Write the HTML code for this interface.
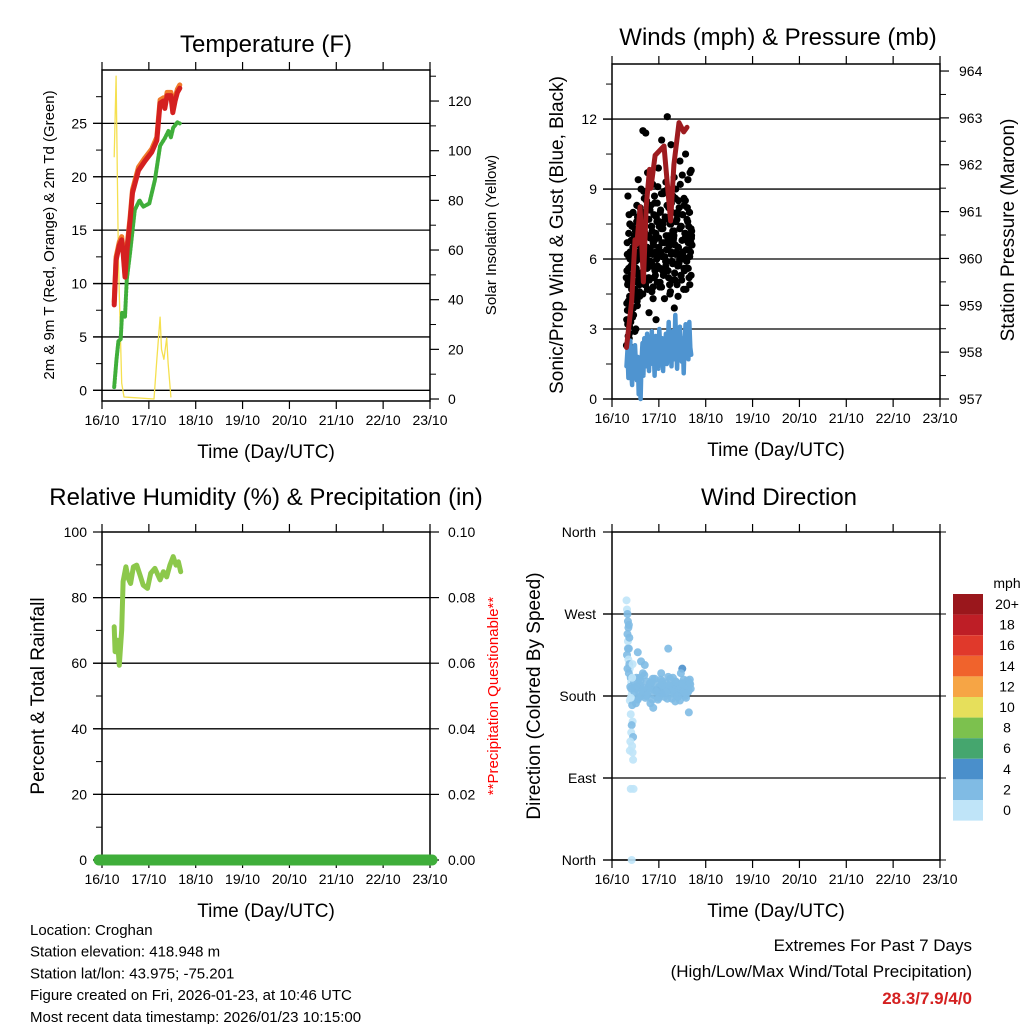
<!DOCTYPE html>
<html><head><meta charset="utf-8"><style>
body{margin:0;background:#fff;}
svg{display:block;font-family:"Liberation Sans",sans-serif;}
</style></head><body>
<svg id="s" width="1024" height="1024" xmlns="http://www.w3.org/2000/svg"></svg>
<script>
const dayLabels=["16/10","17/10","18/10","19/10","20/10","21/10","22/10","23/10"];
const tempT=[0.26,0.30,0.37,0.42,0.45,0.49,0.54,0.60,0.65,0.78,0.92,1.06,1.17,1.24,1.31,1.34,1.39,1.47,1.51,1.56,1.61,1.66];
const tempRed=[8.0,12.2,13.6,14.1,12.9,10.6,13.4,15.9,18.5,20.6,21.5,22.3,23.4,26.9,27.1,26.4,27.6,27.6,26.0,27.1,27.9,28.3];
const tdT=[0.26,0.31,0.35,0.40,0.43,0.49,0.53,0.60,0.70,0.80,0.88,1.01,1.13,1.24,1.34,1.42,1.47,1.52,1.61,1.66];
const tdVals=[0.3,2.9,4.6,4.8,7.3,6.9,10.4,12.9,16.9,17.8,17.2,17.5,19.7,22.9,23.6,24.3,23.7,24.6,25.1,25.0];
const solT=[0.26,0.30,0.35,0.42,0.47,1.11,1.17,1.24,1.27,1.32,1.38,1.41,1.47];
const solVals=[97.6,130,56,6.4,0.8,0,15.7,33,20,16,24.6,14.5,0.8];
const presT=[0.31,0.42,0.49,0.53,0.60,0.67,0.73,0.80,0.83,0.92,1.11,1.25,1.32,1.43,1.53,1.60];
const presVals=[958.1,959.1,960.4,960.3,961.1,959.5,961.1,961.9,961.5,962.2,962.4,960.8,962.0,962.9,962.7,962.8];
const gustT=[0.31,0.32,0.33,0.34,0.35,0.36,0.37,0.38,0.39,0.40,0.41,0.42,0.43,0.44,0.45,0.46,0.47,0.48,0.49,0.50,0.51,0.52,0.53,0.54,0.55,0.56,0.57,0.58,0.59,0.60,0.62,0.63,0.65,0.66,0.67,0.69,0.70,0.72,0.73,0.75,0.76,0.78,0.79,0.81,0.82,0.84,0.85,0.87,0.88,0.90,0.91,0.93,0.94,0.96,0.97,0.99,1.00,1.02,1.03,1.05,1.06,1.08,1.09,1.11,1.12,1.14,1.15,1.17,1.18,1.20,1.21,1.23,1.24,1.26,1.27,1.29,1.30,1.32,1.33,1.35,1.36,1.38,1.39,1.41,1.42,1.44,1.45,1.47,1.48,1.50,1.51,1.53,1.54,1.56,1.57,1.59,1.60,1.62,1.63,1.65,1.66,1.68,1.69,1.70];
const gustVals=[2.3,5.5,3.8,8.7,4.2,6.1,2.8,7.5,5.0,3.3,6.8,4.7,2.2,5.8,8.0,3.6,6.3,1.0,4.5,7.2,3.0,5.4,8.3,4.0,6.6,9.4,5.1,7.8,4.4,6.0,9.0,5.3,7.1,11.5,6.4,8.6,4.9,11.4,7.0,5.6,9.7,6.2,3.7,8.1,5.9,7.4,4.6,9.2,6.7,5.2,8.4,6.9,3.4,7.6,5.7,9.9,6.5,4.8,8.0,7.3,11.1,5.5,8.8,6.1,4.3,7.7,9.3,5.9,12.1,6.8,8.2,4.9,7.5,10.9,6.3,5.1,8.7,7.0,3.9,6.6,9.0,5.8,7.9,4.4,8.5,6.2,10.2,5.3,7.4,9.6,6.0,4.7,8.3,6.9,10.5,5.6,7.7,9.4,6.4,8.0,4.9,6.7,9.8,7.2];
const gustVals2=[4.1,6.2,3.2,5.0,7.1,2.6,4.4,6.0,3.9,5.3,4.8,7.4,3.5,6.5,4.3,5.9,7.0,2.9,6.1,4.6,5.6,7.6,4.2,6.9,5.0,7.3,6.3,4.9,8.2,5.4,6.5,7.9,4.5,6.8,8.9,5.2,7.1,6.0,8.5,4.7,6.4,7.7,5.1,6.9,8.3,5.8,7.2,4.3,6.6,8.7,5.5,6.3,7.8,5.0,9.1,6.2,7.4,5.6,8.1,4.8,6.7,7.5,5.3,8.9,6.1,5.7,7.0,6.4,9.0,5.2,7.8,6.6,4.6,8.4,5.9,7.2,6.8,9.5,5.4,6.2,7.6,4.9,8.0,6.5,5.8,7.3,9.2,6.0,5.1,7.9,6.3,8.6,5.5,7.1,4.7,6.9,8.2,5.6,7.4,6.1,9.7,5.3,7.0,6.6];
const gustVals3=[5.2,3.4,6.7,4.9,2.7,5.6,7.9,3.1,6.3,4.0,5.7,3.6,6.8,4.4,5.1,3.9,6.2,5.5,4.7,7.3,5.9,4.3,6.6,5.0,7.8,6.1,5.3,6.9,4.6,7.5,6.0,5.4,8.0,6.7,5.1,7.2,6.3,4.9,7.7,5.8,6.5,7.0,5.2,8.1,6.4,5.7,7.4,6.2,4.8,7.9,6.8,5.3,7.1,6.0,8.4,5.6,6.9,7.6,5.0,6.3,8.8,6.1,7.3,5.4,6.7,7.8,5.9,6.4,8.3,5.5,7.0,6.6,4.5,7.5,6.2,8.0,5.8,6.9,7.2,5.1,8.6,6.3,7.7,5.7,6.5,8.2,6.0,7.4,5.3,6.8,7.9,6.1,5.6,7.1,8.5,6.4,5.9,7.6,6.7,5.2,8.0,6.3,7.3,6.9];
const windT0=0.31, windDt=0.02;
const windVals=[1.4,2.1,0.9,1.7,2.5,1.2,0.6,1.9,1.1,2.3,1.5,0.8,1.8,0.2,1.3,0,1.6,2.4,1.0,2.6,1.9,1.4,2.8,2.0,1.2,2.5,1.7,2.9,1.5,2.2,1.0,2.7,1.8,2.3,1.3,3.0,2.1,1.6,2.6,1.2,2.4,1.9,2.8,1.5,2.2,3.3,1.8,2.5,1.4,2.9,2.0,1.7,3.6,2.3,1.3,2.7,1.9,3.1,2.2,1.6,2.6,1.1,2.4,3.2,1.9,2.5,1.7,3.3,2.2,1.9];
const rhT=[0.26,0.28,0.33,0.37,0.42,0.45,0.51,0.56,0.61,0.67,0.74,0.81,0.88,0.97,1.04,1.13,1.24,1.31,1.38,1.45,1.52,1.58,1.63,1.68];
const rhVals=[71.1,63.5,67,59.4,70.1,84.9,89.4,85.9,84.3,89.4,89.9,86.9,83.8,82.8,87.4,88.9,85.4,87.9,86.3,89.9,92.5,89.9,90.9,87.9];
const dirT=[0.31,0.32,0.33,0.34,0.35,0.33,0.34,0.36,0.32,0.35,0.37,0.38,0.36,0.40,0.41,0.39,0.42,0.38,0.43,0.40,0.44,0.42,0.41,0.45,0.39,0.43,0.44,0.38,0.45,0.40,0.46,0.42,0.36,0.37,0.34,0.33,
0.47,0.50,0.52,0.55,0.58,0.60,0.63,0.66,0.68,0.71,0.74,0.76,0.79,0.82,0.85,0.87,0.90,0.93,0.96,0.98,1.01,1.04,1.06,1.09,1.12,1.15,1.17,1.20,1.23,1.25,1.28,1.31,1.34,1.36,1.39,1.42,1.45,1.48,1.50,1.53,1.56,1.59,1.62,1.65,1.68,0.55,0.70,0.88,1.05,1.20,1.35,1.50,1.64,0.62,0.95,1.27,1.43,
0.48,0.53,0.57,0.61,0.65,0.69,0.73,0.77,0.81,0.86,0.91,0.95,0.99,1.03,1.07,1.11,1.14,1.18,1.22,1.26,1.30,1.33,1.37,1.41,1.44,1.47,1.52,1.55,1.58,1.61,1.64,1.67,0.51,0.59,0.67,0.75,0.84,0.92,1.00,1.08,1.16,1.24,1.32,1.40,1.49,1.57,1.66,0.44,0.43,0.41,0.40];
const dirDeg=[285,275,270,262,255,248,240,232,225,220,215,210,205,200,195,190,182,175,170,160,152,148,140,135,130,125,118,120,110,78,78,0,258,244,232,210,
195,188,200,176,183,192,180,205,186,178,196,184,190,172,188,199,181,193,185,176,190,198,183,187,179,194,186,201,182,189,177,192,185,196,181,188,175,193,186,198,180,190,184,195,188,228,214,167,205,232,174,210,162,218,186,190,183,
184,191,178,197,186,203,180,189,194,176,199,185,188,181,196,183,190,177,192,186,200,182,195,179,188,205,184,191,178,197,186,193,172,200,189,181,195,186,178,192,184,199,187,180,194,183,198,215,200,188,178];
const dirSpd=[1,1,2,2,3,2,1,2,3,1,2,1,3,2,1,2,1,1,2,1,1,3,1,3,1,1,1,1,1,1,1,1,3,2,3,2,
2,2,3,2,3,2,2,3,2,2,3,2,2,3,2,2,3,2,2,2,3,2,5,3,2,2,3,2,2,3,2,2,3,2,2,3,2,2,3,2,2,2,3,2,2,3,3,2,3,2,3,4,2,2,5,3,2,
2,3,2,2,3,2,3,2,2,3,2,2,3,2,2,3,2,2,3,2,2,3,2,2,3,2,2,3,2,2,3,2,2,3,2,2,3,2,2,3,2,2,3,2,2,3,2,1,1,2,1];
const cbLabels=["20+","18","16","14","12","10","8","6","4","2","0"];
const cbColors=["#9a171c","#be1e26","#e0392b","#f0632c","#f6a545","#e6df5b","#7cc14e","#45a66e","#4a8fcb","#80bbe4","#bfe4f8"];

const S=document.getElementById('s');
const NS="http://www.w3.org/2000/svg";
function el(tag,attrs,parent){const e=document.createElementNS(NS,tag);for(const k in attrs)e.setAttribute(k,attrs[k]);(parent||S).appendChild(e);return e;}
function txt(x,y,s,size,opts,name){opts=opts||{};const a={x:x,y:y,'font-size':size,fill:opts.fill||'#000','text-anchor':opts.anchor||'middle'};if(opts.rot)a.transform=`rotate(${opts.rot} ${x} ${y})`;if(opts.weight)a['font-weight']=opts.weight;const t=el('text',a);t.textContent=s;


return t;}
function line(x1,y1,x2,y2,w,c,g){return el('line',{x1,y1,x2,y2,stroke:c||'#000','stroke-width':w||1},g);}

function panel(o){
  const g=el('g',{});
  
  
  o.g=g;
  o.x=t=>o.L+t*(o.R-o.L)/7;
  o.y=v=>o.B-(v-o.ymin)*(o.B-o.T)/(o.ymax-o.ymin);
  if(o.y2min!==undefined)o.y2=v=>o.B-(v-o.y2min)*(o.B-o.T)/(o.y2max-o.y2min);
  o.grid.forEach(v=>{const l=line(o.L-9,o.y(v),o.R,o.y(v),1.3,'#000',g);});
  const b=el('rect',{x:o.L,y:o.T,width:o.R-o.L,height:o.B-o.T,fill:'none',stroke:'#000','stroke-width':1.5},g);
  
  for(let d=0;d<=7;d++){const x=o.x(d);line(x,o.B,x,o.B+8,1.2,'#000',g);line(x,o.T,x,o.T-8,1.2,'#000',g);
    txt(x,o.B+24,dayLabels[d],14,{},'x-tick-label');}
  o.minor.forEach(v=>line(o.L-6,o.y(v),o.L,o.y(v),1,'#000',g));
  o.major.forEach(v=>line(o.L-9,o.y(v),o.L,o.y(v),1.2,'#000',g));
  txt(( o.L+o.R)/2,o.B+57,'Time (Day/UTC)',19,{},'x-axis-title');
  return o;
}
function poly(o,xs,ys,yf,color,w,name){const d=xs.map((t,i)=>`${i?'L':'M'}${o.x(t).toFixed(1)},${yf(ys[i]).toFixed(1)}`).join('');
  const p=el('path',{d,fill:'none',stroke:color,'stroke-width':w,'stroke-linejoin':'round','stroke-linecap':'round'},o.g);
  return p;}
function dots(o,xs,ys,yf,color,r,name){ys.forEach((v,i)=>{if(xs[i]===undefined)return;const c=el('circle',{cx:o.x(xs[i]),cy:yf(v),r,fill:color},o.g);
  });}

// ---- Temperature
const P1=panel({name:'temperature-panel',L:102,R:430,T:70,B:401,ymin:-1,ymax:30,y2min:-0.8,y2max:132.5,
 grid:[0,5,10,15,20,25],major:[0,5,10,15,20,25],minor:[2.5,7.5,12.5,17.5,22.5,27.5]});
[0,5,10,15,20,25].forEach(v=>txt(87,P1.y(v)+5,String(v),14,{anchor:'end'},'y-tick-label'));
[0,20,40,60,80,100,120].forEach(v=>{line(430,P1.y2(v),439,P1.y2(v),1.2,'#000',P1.g);txt(448,P1.y2(v)+5,String(v),14,{anchor:'start'},'y2-tick-label');});
[10,30,50,70,90,110,130].forEach(v=>line(430,P1.y2(v),436,P1.y2(v),1,'#000',P1.g));
poly(P1,solT,solVals,P1.y2,'#f5e04f',1.3,'solar-line');
poly(P1,tdT,tdVals,P1.y,'#3fae3a',4,'dewpoint-line').setAttribute('stroke-dasharray','2 1.5');
poly(P1,tempT,tempRed.map(v=>v+0.3),P1.y,'#f07a2a',5,'temp-9m-line');
poly(P1,tempT,tempRed,P1.y,'#d42020',5,'temp-2m-line');
txt(266,52,'Temperature (F)',24,{},'temperature-title');
txt(54,235,'2m & 9m T (Red, Orange) & 2m Td (Green)',15,{rot:-90},'temperature-y-title');
txt(496,235,'Solar Insolation (Yellow)',15,{rot:-90},'solar-y-title');

// ---- Winds
const P2=panel({name:'winds-panel',L:612,R:940,T:64,B:399,ymin:0,ymax:14.36,y2min:957,y2max:964.15,
 grid:[0,3,6,9,12],major:[0,3,6,9,12],minor:[1.5,4.5,7.5,10.5,13.5]});
[0,3,6,9,12].forEach(v=>txt(597,P2.y(v)+5,String(v),14,{anchor:'end'},'y-tick-label'));
for(let p=957;p<=964;p++){line(940,P2.y2(p),949,P2.y2(p),1.2,'#000',P2.g);txt(959,P2.y2(p)+5,String(p),14,{anchor:'start'},'y2-tick-label');}
for(let p=957.5;p<964;p++)line(940,P2.y2(p),946,P2.y2(p),1,'#000',P2.g);
dots(P2,gustT,gustVals,P2.y,'#000',3.6,'gust-dot');
dots(P2,gustT.map(t=>t+0.007),gustVals2,P2.y,'#000',3.6,'gust-dot');
dots(P2,gustT.map(t=>t-0.005),gustVals3,P2.y,'#000',3.6,'gust-dot');
poly(P2,windVals.map((v,i)=>windT0+i*windDt),windVals,P2.y,'#4f94d0',4.5,'wind-line');
poly(P2,presT,presVals,P2.y2,'#9e1b1f',5,'pressure-line');
txt(778,45,'Winds (mph) & Pressure (mb)',24,{},'winds-title');
txt(563,235,'Sonic/Prop Wind & Gust (Blue, Black)',19,{rot:-90},'winds-y-title');
txt(1014,230,'Station Pressure (Maroon)',19,{rot:-90},'pressure-y-title');

// ---- RH
const P3=panel({name:'humidity-panel',L:102,R:430,T:532,B:860,ymin:0,ymax:100,y2min:0,y2max:0.1,
 grid:[0,20,40,60,80],major:[0,20,40,60,80,100],minor:[10,30,50,70,90]});
[0,20,40,60,80,100].forEach(v=>txt(87,P3.y(v)+5,String(v),14,{anchor:'end'},'y-tick-label'));
[0,0.02,0.04,0.06,0.08,0.10].forEach(v=>{line(430,P3.y2(v),439,P3.y2(v),1.2,'#000',P3.g);txt(448,P3.y2(v)+5,v.toFixed(2),14,{anchor:'start'},'y2-tick-label');});
const pr=el('line',{x1:99,y1:860,x2:432,y2:860,stroke:'#3fae3a','stroke-width':11,'stroke-linecap':'round'},P3.g);

poly(P3,rhT,rhVals,P3.y,'#8cc84b',5,'rh-line');
txt(266,505,'Relative Humidity (%) & Precipitation (in)',24,{},'humidity-title');
txt(44,696,'Percent & Total Rainfall',19,{rot:-90},'humidity-y-title');
txt(498,696,'**Precipitation Questionable**',15,{rot:-90,fill:'#ff0000'},'precip-warning');

// ---- Direction
const P4=panel({name:'direction-panel',L:612,R:940,T:532,B:860,ymin:0,ymax:360,
 grid:[0,90,180,270],major:[0,90,180,270,360],minor:[]});
["North","East","South","West","North"].forEach((s,i)=>txt(596,P4.y(i*90)+5,s,14,{anchor:'end'},'y-tick-label'));
[0,90,180,270,360].forEach(v=>line(940,P4.y(v),946,P4.y(v),1,'#000',P4.g));
dirT.forEach((t,i)=>{if(dirDeg[i]===undefined)return;const s=dirSpd[i]||2;const ci=10-Math.min(10,Math.floor(s/2));
  const c=el('circle',{cx:P4.x(t),cy:P4.y(dirDeg[i]),r:4,fill:cbColors[ci],'fill-opacity':0.9},P4.g);
  });
txt(779,505,'Wind Direction',24,{},'direction-title');
txt(540,696,'Direction (Colored By Speed)',19,{rot:-90},'direction-y-title');
txt(1007,588,'mph',14,{},'colorbar-title');
cbColors.forEach((c,i)=>{const r=el('rect',{x:953,y:594+i*20.6,width:30,height:20.6,fill:c});
  
  txt(1007,609+i*20.6,cbLabels[i],14,{},'colorbar-label');});

["Location: Croghan","Station elevation: 418.948 m","Station lat/lon: 43.975; -75.201","Figure created on Fri, 2026-01-23, at 10:46 UTC","Most recent data timestamp: 2026/01/23 10:15:00"].forEach((s,i)=>txt(30,935+i*21.7,s,15,{anchor:'start'},'footer-line'));
txt(972,951,'Extremes For Past 7 Days',17,{anchor:'end'},'extremes-title');
txt(972,977,'(High/Low/Max Wind/Total Precipitation)',17,{anchor:'end'},'extremes-subtitle');
txt(972,1004,'28.3/7.9/4/0',17,{anchor:'end',fill:'#d42020',weight:'bold'},'extremes-values');
</script>
</body></html>
